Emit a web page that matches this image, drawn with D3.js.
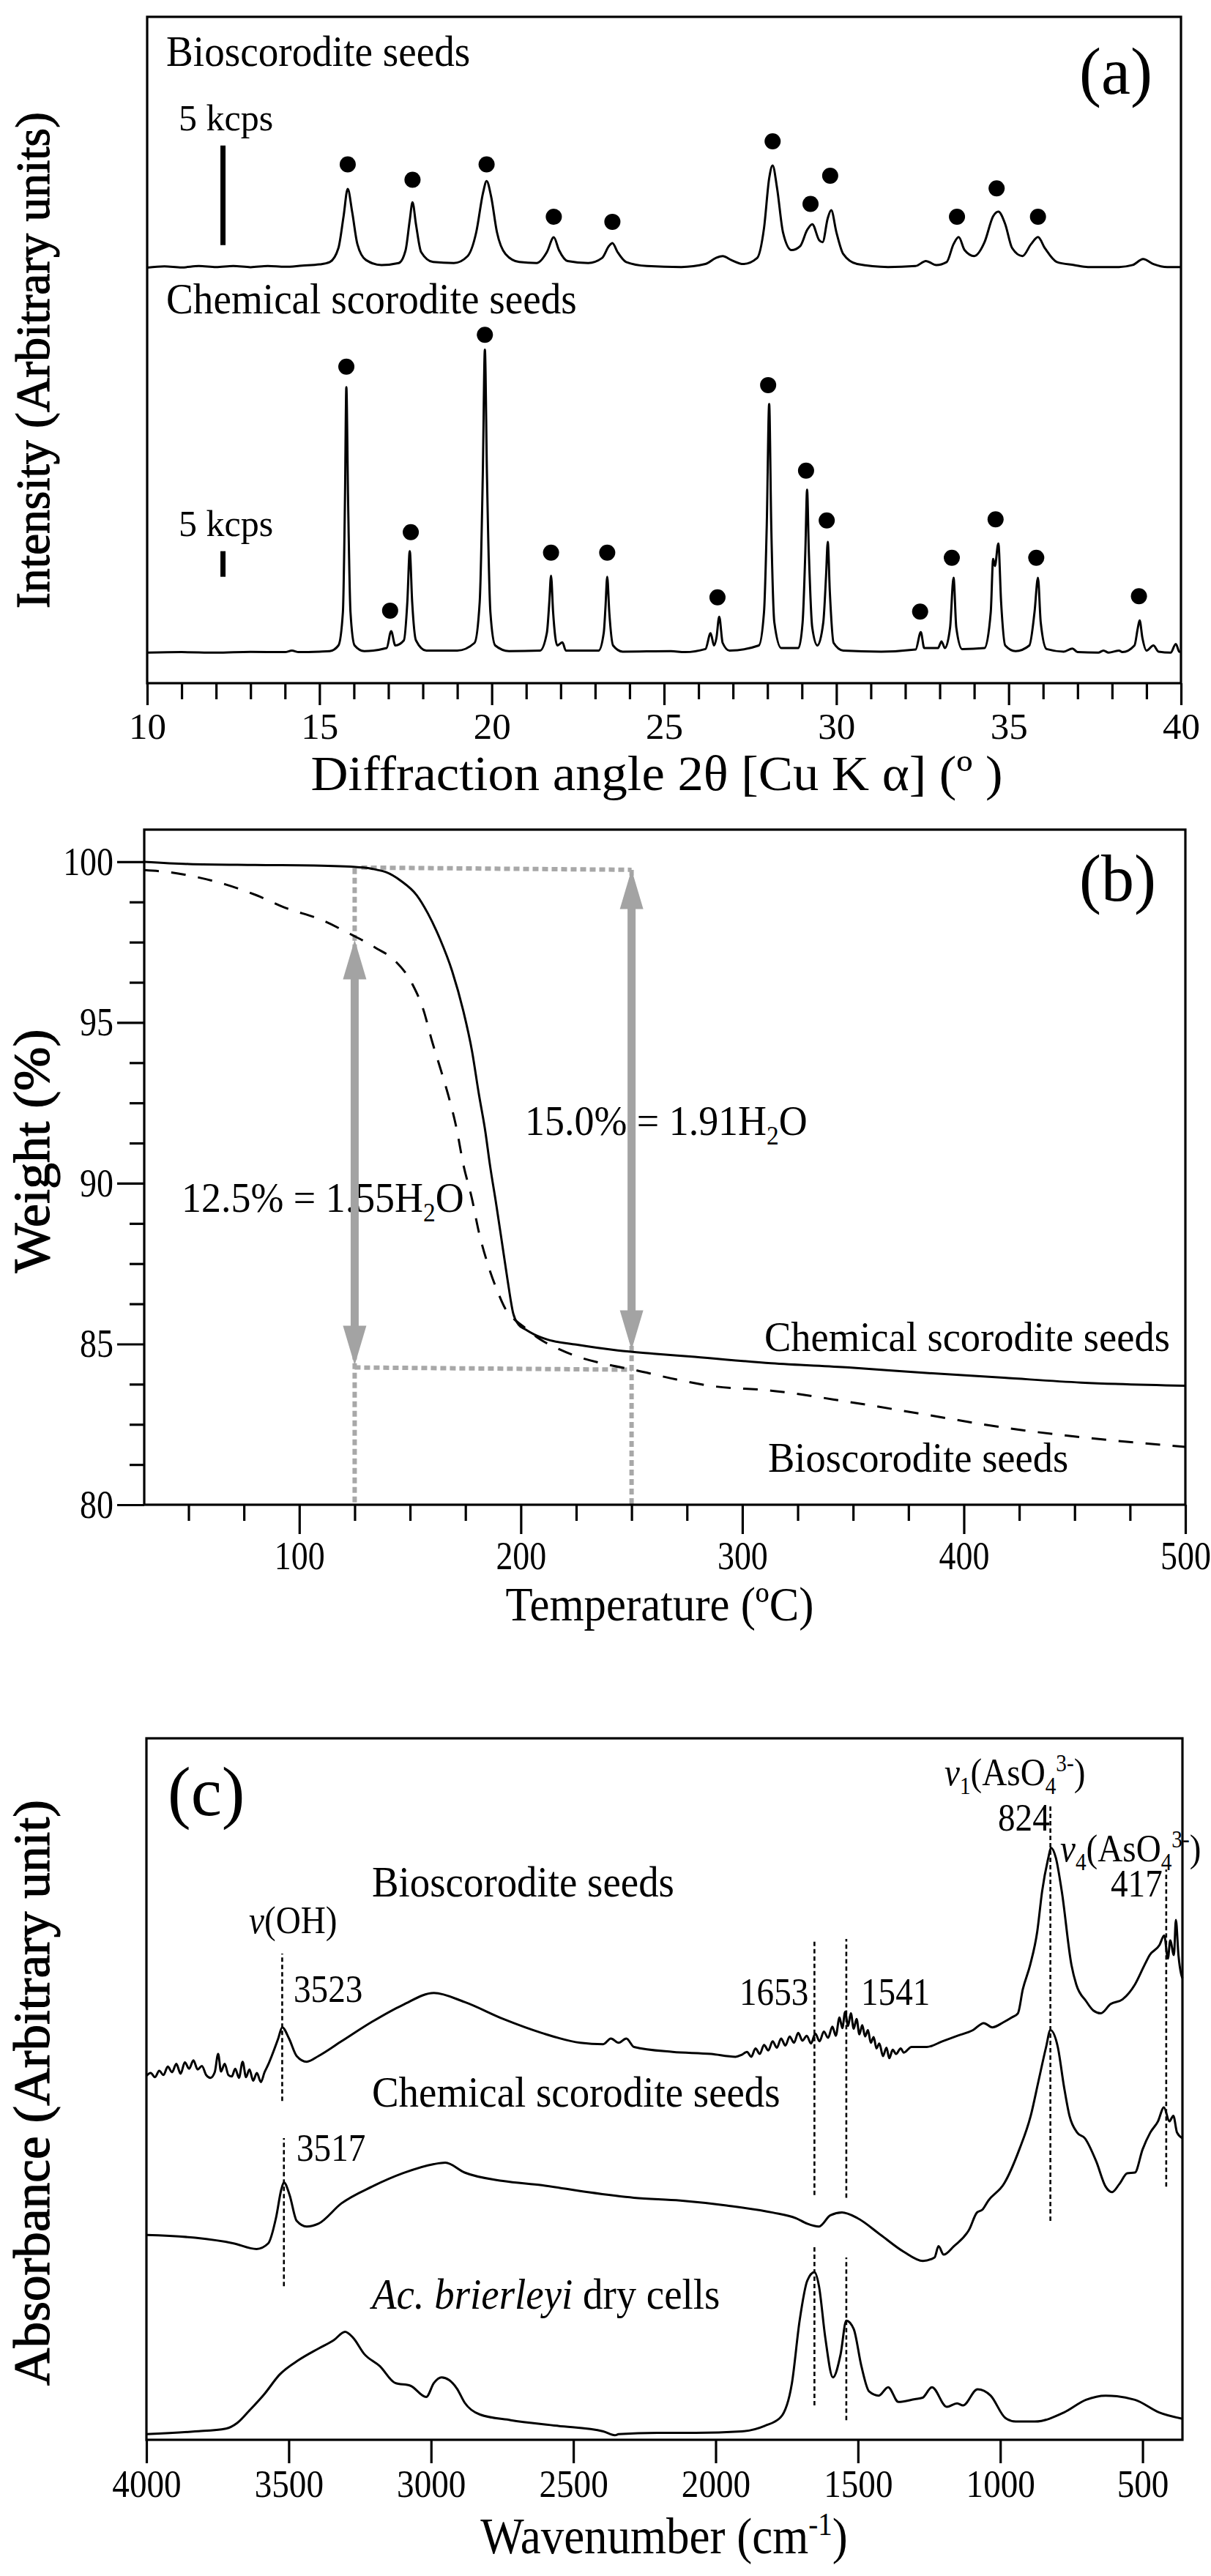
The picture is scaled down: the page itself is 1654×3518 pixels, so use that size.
<!DOCTYPE html>
<html><head><meta charset="utf-8">
<script src="https://cdn.jsdelivr.net/npm/d3@7"></script>
<style>body{margin:0;background:#fff}</style>
</head><body>
<svg id="chart" width="1654" height="3518"></svg>
<script>
// ---------------- DATA ----------------
// (a) XRD, intensity above each trace baseline in kcps
const xrdBio = [[10,0.02],[10.5,0.08],[11,0.03],[11.5,0.1],[12,0.05],[12.5,0.1],[13,0.04],[13.5,0.1],[14,0.06],[14.5,0.12],[15,0.18],[15.3,0.3],[15.55,1.0],[15.7,2.6],[15.82,3.97],[15.95,2.8],[16.1,1.2],[16.35,0.4],[16.8,0.15],[17.3,0.25],[17.5,0.9],[17.62,2.4],[17.7,3.3],[17.8,2.2],[17.95,0.8],[18.3,0.3],[18.9,0.25],[19.3,0.6],[19.55,1.8],[19.75,3.8],[19.85,4.37],[19.98,3.6],[20.15,1.8],[20.4,0.7],[20.8,0.3],[21.3,0.25],[21.6,0.8],[21.8,1.54],[21.95,0.9],[22.2,0.35],[22.8,0.25],[23.2,0.5],[23.4,1.1],[23.5,1.25],[23.65,0.8],[23.9,0.3],[24.5,0.1],[25.5,0.05],[26.2,0.2],[26.5,0.5],[26.7,0.6],[26.95,0.4],[27.3,0.2],[27.7,0.5],[27.9,2.0],[28.05,4.5],[28.15,5.15],[28.28,4.0],[28.45,1.8],[28.7,0.9],[28.95,1.1],[29.15,1.9],[29.3,2.2],[29.5,1.4],[29.6,1.3],[29.75,2.5],[29.85,2.9],[30.0,1.8],[30.2,0.7],[30.6,0.2],[31.5,0.05],[32.3,0.1],[32.6,0.35],[32.9,0.15],[33.2,0.3],[33.4,1.2],[33.55,1.55],[33.72,0.9],[34.0,0.6],[34.3,1.3],[34.55,2.6],[34.7,2.83],[34.9,2.2],[35.1,1.0],[35.4,0.6],[35.65,1.2],[35.85,1.55],[36.05,1.0],[36.4,0.3],[36.9,0.15],[37.3,0.05],[38.2,0.05],[38.6,0.15],[38.9,0.45],[39.2,0.2],[39.6,0.05],[40,0.05]];
const xrdChem = [[10,0.1],[11,0.2],[12,0.1],[13,0.25],[14,0.2],[14.2,0.5],[14.4,0.2],[15,0.3],[15.3,0.4],[15.55,1.5],[15.68,8],[15.74,30],[15.78,51.9],[15.83,30],[15.9,8],[16.02,1.5],[16.3,0.4],[16.95,1.0],[17.08,4.3],[17.2,1.5],[17.45,2.5],[17.55,10],[17.62,19.9],[17.69,10],[17.8,2.5],[18.1,0.5],[19.0,0.5],[19.5,2],[19.65,10],[19.74,35],[19.8,59.2],[19.86,35],[19.96,8],[20.1,1.5],[20.5,0.4],[21.4,0.5],[21.6,4],[21.67,10],[21.72,15.1],[21.78,8],[21.9,1.5],[22.05,2.1],[22.15,0.5],[23.1,0.5],[23.25,4],[23.3,9],[23.35,14.9],[23.41,8],[23.52,1.5],[23.8,0.3],[25.2,0.4],[25.6,0.2],[26.2,0.8],[26.35,3.9],[26.45,1.5],[26.52,3],[26.6,7.1],[26.7,2],[26.9,0.5],[27.75,1.5],[27.9,8],[27.98,25],[28.05,48.6],[28.11,25],[28.2,6],[28.4,1],[28.9,1],[29.02,6],[29.1,20],[29.15,31.9],[29.2,20],[29.3,5],[29.45,1.5],[29.62,6],[29.7,15],[29.75,21.7],[29.81,12],[29.92,2],[30.2,0.5],[31.3,0.3],[32.3,0.7],[32.45,4.1],[32.55,1],[32.95,1],[33.05,2.3],[33.15,1],[33.3,5],[33.4,14.7],[33.48,5],[33.65,0.8],[34.3,1.0],[34.48,8],[34.55,18.4],[34.6,17],[34.7,21.4],[34.78,10],[34.9,1.5],[35.2,0.4],[35.6,1.5],[35.75,8],[35.85,14.7],[35.93,6],[36.1,0.8],[36.6,0.3],[36.85,0.9],[37.0,0.2],[37.6,0.1],[37.75,0.5],[37.9,0.1],[38.2,0.5],[38.3,0.2],[38.65,1.5],[38.75,5],[38.8,6.4],[38.88,3],[39.0,0.5],[39.2,1.5],[39.35,0.3],[39.7,0.1],[39.85,1.8],[39.95,0.3],[40,0.2]];
const xrdBioDots = [[15.82,5.2],[17.7,4.43],[19.85,5.2],[21.8,2.57],[23.5,2.32],[28.15,6.36],[29.25,3.22],[29.82,4.63],[33.5,2.57],[34.65,4.0],[35.85,2.57]];
const xrdChemDots = [[15.78,55.9],[17.05,8.3],[17.65,23.6],[19.8,62.1],[21.72,19.6],[23.35,19.6],[26.55,10.9],[28.02,52.3],[29.12,35.6],[29.72,25.9],[32.43,8.1],[33.35,18.6],[34.62,26.1],[35.8,18.6],[38.78,11.1]];
const scaleBarX = 12.2;
const bioBar = [1.15, 6.15];     // 5 kcps
const chemBar = [14.9, 19.9];    // 5 kcps
const xrdMajorTicks = [10,15,20,25,30,35,40];

// (b) TGA [temperature, weight %]
const tgaChem = [[30,100],[50,99.93],[80,99.9],[110,99.88],[129,99.82],[135,99.75],[139,99.68],[146,99.4],[153,98.96],[158,98.4],[163.5,97.6],[169,96.6],[174,95.37],[178,94.1],[181,92.8],[184,91.6],[186,90.6],[189,89.3],[191.4,88.2],[194,87],[196.6,85.94],[199,85.6],[201.9,85.46],[206,85.3],[212,85.14],[225,84.98],[243.7,84.8],[260,84.7],[278.5,84.6],[313,84.4],[348,84.27],[383,84.1],[418,83.95],[453,83.8],[500,83.7]];
const tgaBio = [[30,99.74],[42,99.67],[54,99.52],[67,99.29],[81,98.95],[94,98.56],[109,98.22],[124.5,97.7],[129,97.54],[135,97.3],[142.6,96.96],[151,96.2],[156,95.4],[160,94.4],[164,93.5],[167,92.8],[171,91.7],[174,90.6],[178,89.5],[181,88.5],[185,87.5],[189.7,86.6],[193,86.1],[196.6,85.8],[202,85.5],[208.8,85.14],[217,84.85],[226,84.6],[240,84.35],[250.7,84.2],[270,83.9],[285.5,83.7],[313,83.55],[348,83.2],[383,82.8],[418,82.4],[453,82.1],[500,81.8]];
const tgaGuides = [[[125,99.8],[125,80]],[[250,99.75],[250,80]],[[128,99.82],[250,99.75]],[[125,84.27],[250,84.2]]];
const tgaArrows = [{T:125, lo:84.34, hi:97.57},{T:250, lo:84.82, hi:99.76}];
const tgaYMajor = [80,85,90,95,100];
const tgaYMinor = [81.25,82.5,83.75,86.25,87.5,88.75,91.25,92.5,93.75,96.25,97.5,98.75];
const tgaXMajor = [100,200,300,400,500];
const tgaXMinor = [50,75,125,150,175,225,250,275,325,350,375,425,450,475];

// (c) FTIR [wavenumber, absorbance (arb.)]
const ftirBio = [[4000,51.9],[3985,52.3],[3970,51.7],[3955,52.6],[3940,52.0],[3925,53.2],[3910,52.4],[3895,53.6],[3880,52.2],[3865,53.8],[3850,52.9],[3835,54.1],[3820,52.8],[3805,53.3],[3790,52.0],[3775,51.6],[3760,52.4],[3748,55.0],[3738,52.5],[3725,53.6],[3712,52.0],[3700,51.8],[3688,52.9],[3675,51.6],[3662,53.9],[3650,51.7],[3638,52.8],[3625,51.2],[3612,52.3],[3598,51.0],[3585,52.4],[3572,53.5],[3559,54.8],[3537,57.2],[3523,58.8],[3499,57.2],[3472,54.7],[3437,53.9],[3396,54.7],[3315,56.8],[3207,59.6],[3099,62.0],[2990,63.7],[2882,62.4],[2747,60.0],[2611,58.0],[2476,56.6],[2395,56.4],[2368,57.2],[2341,56.6],[2314,57.2],[2287,56.0],[2151,55.3],[2016,55.0],[1930,54.6],[1908,54.9],[1890,55.3],[1875,54.6],[1860,55.8],[1845,55.0],[1830,56.3],[1815,55.5],[1800,56.8],[1785,55.9],[1770,57.2],[1755,56.2],[1740,57.5],[1725,56.6],[1710,58.0],[1695,56.9],[1680,57.6],[1665,56.5],[1650,57.9],[1635,56.8],[1620,58.2],[1605,57.3],[1590,58.9],[1578,57.6],[1565,60.2],[1555,58.7],[1545,61.0],[1535,59.0],[1525,60.8],[1515,58.6],[1505,60.0],[1495,57.8],[1485,59.1],[1475,57.5],[1465,58.4],[1455,56.6],[1445,57.4],[1435,55.8],[1425,56.5],[1412,54.7],[1400,55.9],[1390,54.4],[1378,55.6],[1366,55.0],[1350,55.8],[1339,55.2],[1312,56.0],[1258,56.0],[1204,56.8],[1150,57.6],[1096,58.4],[1058,59.4],[1028,58.8],[990,59.5],[960,60.2],[938,60.8],[921,64.2],[895,67.7],[870,72.5],[853,78.2],[831,83],[822,84.4],[805,83],[784,78.2],[750,67.7],[733,64.9],[698,62.5],[673,61.2],[647,60.8],[613,62.1],[570,62.8],[527,64.9],[493,67.7],[475,69.1],[441,70.5],[424,71.9],[411,68.6],[403,71.2],[390,69.1],[383,74.1],[374,69.1],[364,66.3],[360,65.8]];
const ftirChem = [[4000,29.2],[3829,28.8],[3694,28.0],[3613,27.2],[3572,28.0],[3545,31.6],[3526,35.7],[3517,36.7],[3497,34.9],[3472,31.2],[3437,30.4],[3396,30.8],[3315,33.7],[3207,36.1],[3099,38.0],[2990,39.3],[2950,39.5],[2882,38.1],[2747,36.9],[2611,36.3],[2449,35.3],[2287,34.5],[2124,34.1],[1962,33.4],[1800,32.4],[1718,31.6],[1678,30.8],[1637,30.4],[1597,32.0],[1556,32.4],[1502,31.6],[1420,29.2],[1339,26.8],[1272,25.5],[1231,26.0],[1217,27.6],[1199,26.4],[1163,27.6],[1109,30.0],[1082,32.4],[1063,32.8],[1042,34.1],[987,36.5],[933,41.4],[893,46.2],[866,51.1],[839,56.0],[824,58.4],[798,56.0],[776,50.3],[757,46.2],[730,43.8],[703,43.0],[663,39.7],[630,36.1],[608,35.3],[581,36.5],[554,38.0],[527,38.1],[500,41.4],[473,43.8],[446,45.4],[425,47.4],[406,45.4],[392,46.2],[379,43.8],[360,43.0]];
const ftirCells = [[4000,0.8],[3829,1.2],[3721,1.6],[3681,2.4],[3640,4.1],[3586,6.5],[3532,9.3],[3464,11.4],[3396,13.0],[3342,14.2],[3302,15.4],[3275,14.6],[3234,12.2],[3180,10.5],[3126,8.1],[3072,7.7],[3017,6.1],[2990,8.1],[2963,8.9],[2936,8.5],[2909,7.3],[2882,5.3],[2828,3.6],[2720,2.8],[2557,2.0],[2395,1.2],[2354,0.65],[2341,0.8],[2205,1.0],[2070,1.0],[1908,1.2],[1827,2.0],[1772,3.2],[1732,8.1],[1705,17.0],[1678,22.7],[1653,23.9],[1637,21.9],[1615,14.6],[1588,8.9],[1561,12.2],[1541,17.0],[1515,15.8],[1488,10.5],[1461,6.9],[1427,6.3],[1394,7.5],[1358,5.4],[1300,5.8],[1273,6.0],[1240,7.5],[1188,4.7],[1152,5.2],[1131,4.9],[1080,7.2],[1034,6.3],[982,3.1],[946,2.6],[879,2.6],[776,3.9],[699,5.7],[630,6.3],[527,5.7],[442,3.9],[360,3.0]];
const ftirMarks = [{w:3523,a0:48.3,a1:69.3},{w:3517,a0:21.9,a1:43.0},{w:1653,a0:34.9,a1:71.4},{w:1653,a0:4.9,a1:27.6},{w:1541,a0:34.5,a1:71.4},{w:1541,a0:2.8,a1:26.0},{w:824,a0:31.2,a1:90.7},{w:417,a0:36.1,a1:81.3}];
const ftirTicks = [4000,3500,3000,2500,2000,1500,1000,500];

// ---------------- DRAWING ----------------
const SERIF = '"Liberation Serif","Times New Roman",serif';
const svg = d3.select('#chart');
svg.append('rect').attr('width',1654).attr('height',3518).attr('fill','#fff');

function richText(parent, x, y, parts, o) {
  const size = o.size, sx = o.sx ?? 1;
  const t = parent.append('text')
    .attr('transform', `translate(${x},${y})` + (o.rotate ? ` rotate(${o.rotate})` : '') + ` scale(${sx},1)`)
    .attr('font-family', o.family || SERIF).attr('font-size', size)
    .attr('text-anchor', o.anchor || 'start').attr('fill', '#000');
  if (o.length) t.attr('textLength', o.length / sx).attr('lengthAdjust', 'spacingAndGlyphs');
  if (o.heavy) t.attr('stroke', '#000').attr('stroke-width', o.heavy);
  let cur = 0;
  parts.forEach(p => {
    if (typeof p === 'string') p = {t: p};
    const target = p.sub ? size * 0.22 : p.sup ? -size * 0.36 : 0;
    const ts = t.append('tspan').attr('dy', target - cur).text(p.t);
    if (p.sub || p.sup) ts.attr('font-size', size * 0.62);
    if (p.it) ts.attr('font-style', 'italic');
    cur = target;
  });
  return t;
}
function styleAxis(g, size, sx) {
  g.select('.domain').remove();
  g.selectAll('line').attr('stroke', '#000').attr('stroke-width', 3.2);
  g.selectAll('text').attr('font-family', SERIF).attr('font-size', size).attr('fill', '#000');
  if (sx !== 1) g.selectAll('text').attr('transform', `scale(${sx},1)`);
}
function frame(g, x0, y0, x1, y1) {
  g.append('rect').attr('x', x0).attr('y', y0).attr('width', x1 - x0).attr('height', y1 - y0)
    .attr('fill', 'none').attr('stroke', '#000').attr('stroke-width', 3.2);
}

// ===== Panel (a) =====
{
  const L = 201, R = 1613, T = 23, B = 933;
  const g = svg.append('g');
  const x = d3.scaleLinear().domain([10, 40]).range([L, R]);
  const yBio = d3.scaleLinear().domain([0, 10]).range([366, 94]);
  const yChem = d3.scaleLinear().domain([0, 60]).range([892, 472]);
  const lb = d3.line().x(d => x(d[0])).y(d => yBio(d[1])).curve(d3.curveMonotoneX);
  const lc = d3.line().x(d => x(d[0])).y(d => yChem(d[1])).curve(d3.curveMonotoneX);
  g.append('path').datum(xrdBio).attr('d', lb).attr('fill', 'none').attr('stroke', '#000').attr('stroke-width', 3).attr('stroke-linejoin', 'round');
  g.append('path').datum(xrdChem).attr('d', lc).attr('fill', 'none').attr('stroke', '#000').attr('stroke-width', 3).attr('stroke-linejoin', 'round');
  g.selectAll('circle.bd').data(xrdBioDots).join('circle').attr('class', 'bd')
    .attr('cx', d => x(d[0])).attr('cy', d => yBio(d[1])).attr('r', 11).attr('fill', '#000');
  g.selectAll('circle.cd').data(xrdChemDots).join('circle').attr('class', 'cd')
    .attr('cx', d => x(d[0])).attr('cy', d => yChem(d[1])).attr('r', 11).attr('fill', '#000');
  g.append('line').attr('x1', x(scaleBarX)).attr('x2', x(scaleBarX)).attr('y1', yBio(bioBar[0])).attr('y2', yBio(bioBar[1])).attr('stroke', '#000').attr('stroke-width', 7);
  g.append('line').attr('x1', x(scaleBarX)).attr('x2', x(scaleBarX)).attr('y1', yChem(chemBar[0])).attr('y2', yChem(chemBar[1])).attr('stroke', '#000').attr('stroke-width', 7);

  const ax = g.append('g').attr('transform', `translate(0,${B})`)
    .call(d3.axisBottom(x).tickValues(xrdMajorTicks).tickSize(30).tickPadding(10).tickFormat(d3.format('d')));
  styleAxis(ax, 51, 1);
  const axm = g.append('g').attr('transform', `translate(0,${B})`)
    .call(d3.axisBottom(x).tickValues(d3.range(10, 41).filter(v => v % 5)).tickSize(22).tickFormat(() => ''));
  styleAxis(axm, 51, 1);
  frame(g, L, T, R, B);

  richText(g, 227, 90, ['Bioscorodite seeds'], {size: 60, sx: 0.92});
  richText(g, 227, 428, ['Chemical scorodite seeds'], {size: 60, sx: 0.92});
  richText(g, 244, 178, ['5 kcps'], {size: 50});
  richText(g, 244, 732, ['5 kcps'], {size: 50});
  richText(g, 1474, 128, ['(a)'], {size: 90});
  richText(g, 897, 1079, ['Diffraction angle 2θ [Cu K α] (º )'], {size: 68, anchor: 'middle', length: 945});
  richText(g, 67, 492, ['Intensity (Arbitrary units)'], {size: 66, anchor: 'middle', rotate: -90, length: 678, heavy: 1.2});
}

// ===== Panel (b) =====
{
  const L = 197, R = 1619, T = 1133, B = 2055;
  const g = svg.append('g');
  const x = d3.scaleLinear().domain([30, 500]).range([L, R]);
  const y = d3.scaleLinear().domain([80, 101]).range([B, T]);
  const GRAY = '#a3a3a3';
  g.selectAll('line.gd').data(tgaGuides).join('line').attr('class', 'gd')
    .attr('x1', d => x(d[0][0])).attr('y1', d => y(d[0][1])).attr('x2', d => x(d[1][0])).attr('y2', d => y(d[1][1]))
    .attr('stroke', '#a8a8a8').attr('stroke-width', 6).attr('stroke-dasharray', '8,5');
  const line = d3.line().x(d => x(d[0])).y(d => y(d[1])).curve(d3.curveMonotoneX);
  g.append('path').datum(tgaBio).attr('d', line).attr('fill', 'none').attr('stroke', '#000').attr('stroke-width', 3).attr('stroke-dasharray', '20,17');
  g.append('path').datum(tgaChem).attr('d', line).attr('fill', 'none').attr('stroke', '#000').attr('stroke-width', 3);

  richText(g, 717, 1550, ['15.0% = 1.91H', {t: '2', sub: true}, 'O'], {size: 58, sx: 0.93});
  richText(g, 248, 1655, ['12.5% = 1.55H', {t: '2', sub: true}, 'O'], {size: 58, sx: 0.93});
  richText(g, 1044, 1845, ['Chemical scorodite seeds'], {size: 58, sx: 0.94});
  richText(g, 1049, 2010, ['Bioscorodite seeds'], {size: 58, sx: 0.94});

  tgaArrows.forEach(a => {
    const xx = x(a.T), yt = y(a.hi), yb = y(a.lo), hl = 54, hw = 16;
    g.append('line').attr('x1', xx).attr('x2', xx).attr('y1', yt + hl - 2).attr('y2', yb - hl + 2).attr('stroke', GRAY).attr('stroke-width', 11);
    g.append('path').attr('d', `M${xx},${yt}L${xx - hw},${yt + hl}L${xx + hw},${yt + hl}Z`).attr('fill', GRAY);
    g.append('path').attr('d', `M${xx},${yb}L${xx - hw},${yb - hl}L${xx + hw},${yb - hl}Z`).attr('fill', GRAY);
  });

  const sxT = 0.85;
  const ay = g.append('g').attr('transform', `translate(${L},0)`)
    .call(d3.axisLeft(y).tickValues(tgaYMajor).tickSize(37).tickPadding(42 / sxT - 37).tickFormat(d3.format('d')));
  styleAxis(ay, 54, sxT);
  const aym = g.append('g').attr('transform', `translate(${L},0)`)
    .call(d3.axisLeft(y).tickValues(tgaYMinor).tickSize(20).tickFormat(() => ''));
  styleAxis(aym, 54, 1);
  const ax = g.append('g').attr('transform', `translate(0,${B})`)
    .call(d3.axisBottom(x).tickValues(tgaXMajor).tickSize(40).tickPadding(10).tickFormat(d3.format('d')));
  styleAxis(ax, 54, sxT);
  const axm = g.append('g').attr('transform', `translate(0,${B})`)
    .call(d3.axisBottom(x).tickValues(tgaXMinor).tickSize(22).tickFormat(() => ''));
  styleAxis(axm, 54, 1);
  frame(g, L, T, R, B);

  richText(g, 1474, 1230, ['(b)'], {size: 90});
  richText(g, 901, 2213, ['Temperature (ºC)'], {size: 66, sx: 0.92, anchor: 'middle'});
  richText(g, 67, 1572, ['Weight (%)'], {size: 70, anchor: 'middle', rotate: -90, length: 333, heavy: 1.2});
}

// ===== Panel (c) =====
{
  const L = 200, R = 1615, T = 2374, B = 3332;
  const g = svg.append('g');
  const x = d3.scaleLinear().domain([4000, 360]).range([L, R]);
  const y = d3.scaleLinear().domain([0, 100]).range([B, T]);
  g.selectAll('line.mk').data(ftirMarks).join('line').attr('class', 'mk')
    .attr('x1', d => x(d.w)).attr('x2', d => x(d.w)).attr('y1', d => y(d.a0)).attr('y2', d => y(d.a1))
    .attr('stroke', '#000').attr('stroke-width', 2.6).attr('stroke-dasharray', '6,4');
  const line = d3.line().x(d => x(d[0])).y(d => y(d[1])).curve(d3.curveMonotoneX);
  [ftirBio, ftirChem, ftirCells].forEach(s => {
    g.append('path').datum(s).attr('d', line).attr('fill', 'none').attr('stroke', '#000').attr('stroke-width', 3).attr('stroke-linejoin', 'round');
  });
  const sxT = 0.89;
  const ax = g.append('g').attr('transform', `translate(0,${B})`)
    .call(d3.axisBottom(x).tickValues(ftirTicks).tickSize(32).tickPadding(8).tickFormat(d3.format('d')));
  styleAxis(ax, 53, sxT);
  frame(g, L, T, R, B);

  richText(g, 229, 2479, ['(c)'], {size: 95});
  richText(g, 508, 2590, ['Bioscorodite seeds'], {size: 59, sx: 0.93});
  richText(g, 508, 2877, ['Chemical scorodite seeds'], {size: 59, sx: 0.93});
  richText(g, 508, 3153, [{t: 'Ac. brierleyi', it: true}, ' dry cells'], {size: 59, sx: 0.93});
  const fs = 53, sx = 0.89;
  richText(g, 340, 2640, [{t: 'v', it: true}, '(OH)'], {size: fs, sx});
  richText(g, 401, 2734, ['3523'], {size: fs, sx});
  richText(g, 405, 2951, ['3517'], {size: fs, sx});
  richText(g, 1010, 2738, ['1653'], {size: fs, sx});
  richText(g, 1176, 2738, ['1541'], {size: fs, sx});
  richText(g, 1290, 2438, [{t: 'v', it: true}, {t: '1', sub: true}, '(AsO', {t: '4', sub: true}, {t: '3-', sup: true}, ')'], {size: fs, sx});
  richText(g, 1363, 2500, ['824'], {size: fs, sx});
  richText(g, 1448, 2542, [{t: 'v', it: true}, {t: '4', sub: true}, '(AsO', {t: '4', sub: true}, {t: '3-', sup: true}, ')'], {size: fs, sx});
  richText(g, 1517, 2590, ['417'], {size: fs, sx});
  richText(g, 907, 3487, ['Wavenumber (cm', {t: '-1', sup: true}, ')'], {size: 70, sx: 0.9, anchor: 'middle'});
  richText(g, 67, 2858, ['Absorbance (Arbitrary unit)'], {size: 70, anchor: 'middle', rotate: -90, length: 800, heavy: 1.2});
}
</script>
</body></html>
